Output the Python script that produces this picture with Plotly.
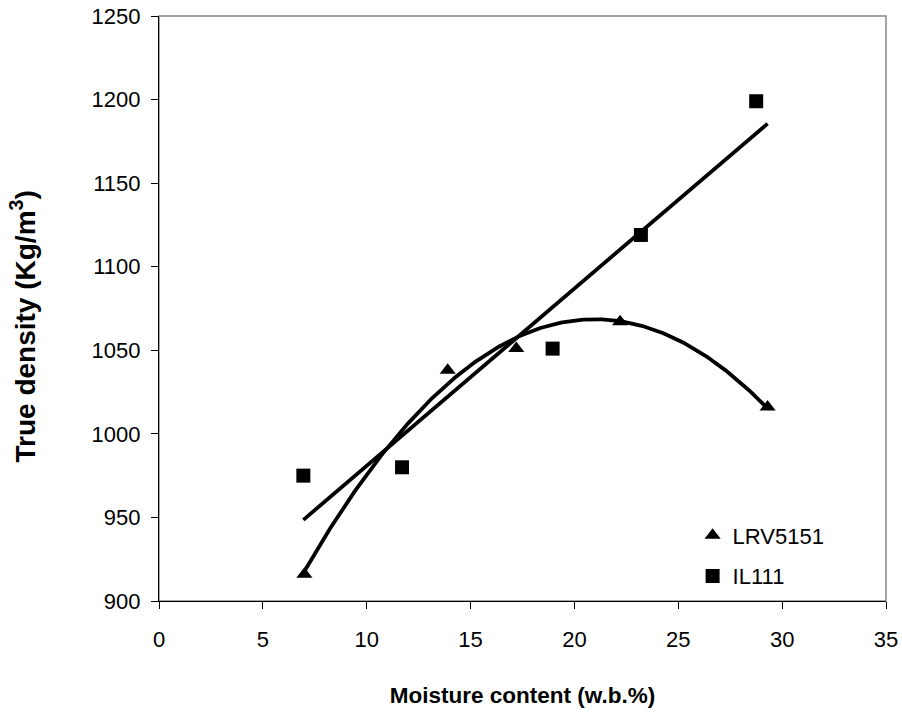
import numpy as np
import plotly.graph_objects as go

# Measured true density of two varieties against moisture content
lrv_moisture = [7.0, 13.9, 17.2, 22.2, 29.3]
lrv_density = [916, 1038, 1051, 1067, 1016]

il_moisture = [6.95, 11.7, 18.95, 23.2, 28.75]
il_density = [975, 980, 1051, 1119, 1199]

series_names = ["LRV5151", "IL111"]

x_ticks = [0, 5, 10, 15, 20, 25, 30, 35]
y_ticks = [900, 950, 1000, 1050, 1100, 1150, 1200, 1250]

FONT = "Arial, 'Liberation Sans', sans-serif"

# Trendlines: 2nd-order polynomial for LRV5151, linear for IL111,
# both drawn across the span of all measured moisture values
all_x = lrv_moisture + il_moisture
xs = np.linspace(min(all_x), max(all_x), 200)
lrv_fit = np.polyval(np.polyfit(lrv_moisture, lrv_density, 2), xs)
il_fit = np.polyval(np.polyfit(il_moisture, il_density, 1), xs)

fig = go.Figure()

fig.add_trace(go.Scatter(x=xs, y=lrv_fit, mode="lines",
                         line=dict(color="black", width=3.8),
                         showlegend=False, hoverinfo="skip"))
fig.add_trace(go.Scatter(x=xs, y=il_fit, mode="lines",
                         line=dict(color="black", width=3.8),
                         showlegend=False, hoverinfo="skip"))

fig.add_trace(go.Scatter(x=lrv_moisture, y=lrv_density, mode="markers",
                         name=series_names[0], legendgroup="a",
                         marker=dict(symbol="triangle-up", size=14, color="black")))
fig.add_trace(go.Scatter(x=il_moisture, y=il_density, mode="markers",
                         name=series_names[1], legendgroup="b",
                         marker=dict(symbol="square", size=14, color="black")))

# grey frame on the top and right sides of the plot area
fig.add_shape(type="rect", xref="paper", yref="paper", x0=0, y0=0, x1=1, y1=1,
              line=dict(color="#888888", width=1.5), layer="below")

axis_common = dict(
    showgrid=False, zeroline=False, showline=True, linecolor="black", linewidth=1.3,
    ticks="outside", ticklen=7, tickwidth=1.3, tickcolor="black",
    tickfont=dict(family=FONT, size=22, color="black"),
)

fig.update_xaxes(range=[0, 35], tickvals=x_ticks, ticklabelstandoff=11,
                 title=dict(text="<b>Moisture content (w.b.%)</b>",
                            font=dict(family=FONT, size=22.5, color="black"),
                            standoff=36),
                 **axis_common)
fig.update_yaxes(range=[900, 1250], tickvals=y_ticks, ticklabelstandoff=6,
                 **axis_common)

# vertical axis title
fig.add_annotation(text="<b>True density (Kg/m<sup>3</sup>)</b>",
                   xref="paper", yref="paper", x=0, y=0.5,
                   xanchor="center", yanchor="middle", textangle=-90,
                   xshift=-136, yshift=-18, showarrow=False,
                   font=dict(family=FONT, size=28, color="black"))

fig.update_layout(
    width=902, height=717,
    margin=dict(l=159, r=16, t=16, b=116, autoexpand=False),
    paper_bgcolor="white", plot_bgcolor="white",
    showlegend=True,
    legend=dict(x=0.734, y=0.006, xanchor="left", yanchor="bottom",
                bgcolor="rgba(0,0,0,0)", tracegroupgap=9,
                font=dict(family=FONT, size=22, color="black")),
)

fig.write_html("out.html")
